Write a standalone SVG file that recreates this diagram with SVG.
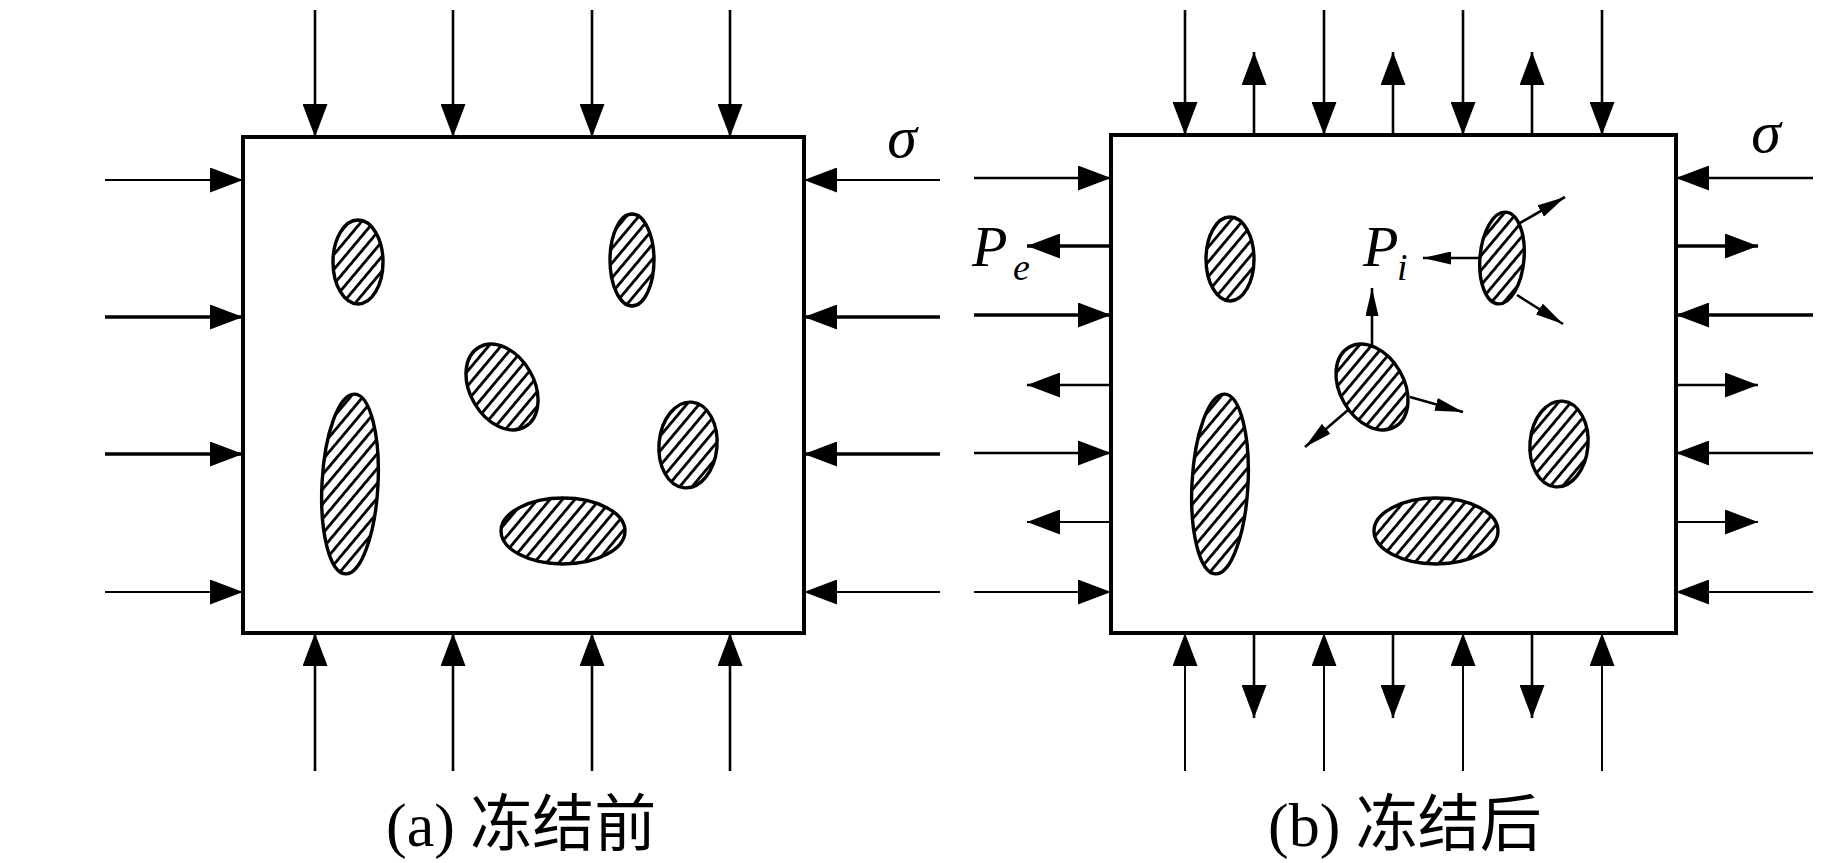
<svg xmlns="http://www.w3.org/2000/svg" width="1827" height="863" viewBox="0 0 1827 863">
<style>
.box{fill:#fff;stroke:#000;stroke-width:4}
.inc{fill:url(#hatch);stroke:#000;stroke-width:3.4}
.r30{fill:url(#hatch70)}
.r3{fill:url(#hatch37)}
.r5{fill:url(#hatch35)}
.ar{stroke:#000;stroke-width:2.6;fill:none;marker-end:url(#ah)}
.thin{stroke-width:2}
.thick{stroke-width:3.6}
.sm{stroke:#000;stroke-width:2.6;fill:none;marker-end:url(#as)}
.sym{font-family:"Liberation Serif","Times New Roman",serif;font-style:italic;fill:#000}
.lat{font-family:"Liberation Serif","Times New Roman",serif}
.cap{font-family:"Liberation Serif","Noto Sans CJK SC",serif;font-size:62px;fill:#000}
</style>
<defs>
<pattern id="hatch" patternUnits="userSpaceOnUse" width="9.5" height="9.5" patternTransform="rotate(40)">
<rect x="0" y="0" width="9.5" height="9.5" fill="#fff"/>
<rect x="0" y="0" width="2.8" height="9.5" fill="#000"/>
</pattern>
<pattern id="hatch70" href="#hatch" patternTransform="rotate(70)"/>
<pattern id="hatch37" href="#hatch" patternTransform="rotate(37)"/>
<pattern id="hatch35" href="#hatch" patternTransform="rotate(35)"/>
<marker id="ah" markerUnits="userSpaceOnUse" markerWidth="33" markerHeight="25" refX="33" refY="12.5" orient="auto">
<path d="M0,0 L33,12.5 L0,25 Z" fill="#000"/>
</marker>
<marker id="as" markerUnits="userSpaceOnUse" markerWidth="28" markerHeight="13" refX="28" refY="6.5" orient="auto">
<path d="M0,0 L28,6.5 L0,13 Z" fill="#000"/>
</marker>
</defs>
<rect width="1827" height="863" fill="#fff"/>

<g id="box-a"><rect class="box" x="243" y="137" width="561" height="496"/></g>
<g id="box-b"><rect class="box" x="1111" y="135" width="565" height="498"/></g>

<g id="inclusions-a">
<g id="a-e1"><ellipse class="inc" cx="358" cy="262" rx="25" ry="42"/></g>
<g id="a-e2"><ellipse class="inc" cx="632" cy="260" rx="22" ry="46"/></g>
<g id="a-e3"><ellipse class="inc r30" cx="0" cy="0" rx="32" ry="46" transform="translate(502,387) rotate(-30)"/></g>
<g id="a-e4"><ellipse class="inc r3" cx="0" cy="0" rx="28" ry="90" transform="translate(350,484) rotate(3)"/></g>
<g id="a-e5"><ellipse class="inc r5" cx="0" cy="0" rx="29" ry="43" transform="translate(688,445) rotate(5)"/></g>
<g id="a-e6"><ellipse class="inc" cx="563" cy="531" rx="62" ry="33"/></g>
</g>

<g id="inclusions-b">
<g id="b-e1"><ellipse class="inc" cx="1230" cy="259" rx="24" ry="42"/></g>
<g id="b-e2"><ellipse class="inc r5" cx="0" cy="0" rx="22" ry="46" transform="translate(1502,258) rotate(5)"/></g>
<g id="b-e3"><ellipse class="inc r30" cx="0" cy="0" rx="32" ry="46" transform="translate(1372,387) rotate(-30)"/></g>
<g id="b-e4"><ellipse class="inc r3" cx="0" cy="0" rx="28" ry="90" transform="translate(1220,484) rotate(3)"/></g>
<g id="b-e5"><ellipse class="inc r5" cx="0" cy="0" rx="29" ry="43" transform="translate(1559,444) rotate(5)"/></g>
<g id="b-e6"><ellipse class="inc" cx="1436" cy="531" rx="62" ry="33"/></g>
</g>

<g id="connectors">
<line class="ar" x1="315" y1="10" x2="315" y2="137"/>
<line class="ar" x1="453" y1="10" x2="453" y2="137"/>
<line class="ar" x1="592" y1="10" x2="592" y2="137"/>
<line class="ar" x1="730" y1="10" x2="730" y2="137"/>
<line class="ar" x1="315" y1="771" x2="315" y2="633"/>
<line class="ar" x1="453" y1="771" x2="453" y2="633"/>
<line class="ar" x1="592" y1="771" x2="592" y2="633"/>
<line class="ar" x1="730" y1="771" x2="730" y2="633"/>
<line class="ar thin" x1="105" y1="180" x2="243" y2="180"/>
<line class="ar thick" x1="105" y1="317" x2="243" y2="317"/>
<line class="ar thick" x1="105" y1="454" x2="243" y2="454"/>
<line class="ar thin" x1="105" y1="592" x2="243" y2="592"/>
<line class="ar thin" x1="940" y1="180" x2="804" y2="180"/>
<line class="ar thick" x1="940" y1="317" x2="804" y2="317"/>
<line class="ar thick" x1="940" y1="454" x2="804" y2="454"/>
<line class="ar thin" x1="940" y1="592" x2="804" y2="592"/>

<line class="ar" x1="1185" y1="10" x2="1185" y2="135"/>
<line class="ar" x1="1324" y1="10" x2="1324" y2="135"/>
<line class="ar" x1="1463" y1="10" x2="1463" y2="135"/>
<line class="ar" x1="1602" y1="10" x2="1602" y2="135"/>
<line class="ar" x1="1254" y1="135" x2="1254" y2="52"/>
<line class="ar" x1="1393" y1="135" x2="1393" y2="52"/>
<line class="ar" x1="1532" y1="135" x2="1532" y2="52"/>
<line class="ar thin" x1="1185" y1="771" x2="1185" y2="633"/>
<line class="ar thin" x1="1324" y1="771" x2="1324" y2="633"/>
<line class="ar thin" x1="1463" y1="771" x2="1463" y2="633"/>
<line class="ar thin" x1="1602" y1="771" x2="1602" y2="633"/>
<line class="ar" x1="1254" y1="633" x2="1254" y2="718"/>
<line class="ar" x1="1393" y1="633" x2="1393" y2="718"/>
<line class="ar" x1="1532" y1="633" x2="1532" y2="718"/>
<line class="ar" x1="974" y1="178" x2="1111" y2="178"/>
<line class="ar thick" x1="974" y1="315" x2="1111" y2="315"/>
<line class="ar" x1="974" y1="453" x2="1111" y2="453"/>
<line class="ar thin" x1="974" y1="592" x2="1111" y2="592"/>
<line class="ar thick" x1="1111" y1="246" x2="1027" y2="246"/>
<line class="ar" x1="1111" y1="385" x2="1027" y2="385"/>
<line class="ar thin" x1="1111" y1="522" x2="1027" y2="522"/>
<line class="ar" x1="1813" y1="178" x2="1676" y2="178"/>
<line class="ar thick" x1="1813" y1="315" x2="1676" y2="315"/>
<line class="ar" x1="1813" y1="453" x2="1676" y2="453"/>
<line class="ar thin" x1="1813" y1="592" x2="1676" y2="592"/>
<line class="ar thick" x1="1676" y1="246" x2="1758" y2="246"/>
<line class="ar" x1="1676" y1="385" x2="1758" y2="385"/>
<line class="ar thin" x1="1676" y1="522" x2="1758" y2="522"/>
<line class="sm" x1="1480" y1="258" x2="1423" y2="258"/>
<line class="sm" x1="1520" y1="223" x2="1565" y2="197"/>
<line class="sm" x1="1517" y1="295" x2="1563" y2="324"/>
<line class="sm" x1="1372" y1="345" x2="1372" y2="288"/>
<line class="sm" x1="1410" y1="397" x2="1463" y2="412"/>
<line class="sm" x1="1348" y1="410" x2="1305" y2="447"/>
</g>

<g id="labels">
<text class="sym" x="902" y="157" font-size="60" text-anchor="middle">σ</text>
<text class="sym" x="1766" y="152" font-size="60" text-anchor="middle">σ</text>
<text class="sym" x="972" y="266" font-size="58">P</text>
<text class="sym" x="1013" y="280" font-size="38">e</text>
<text class="sym" x="1363" y="266" font-size="58">P</text>
<text class="sym" x="1397" y="280" font-size="38">i</text>
<text class="cap" x="386" y="846"><tspan class="lat">(a)</tspan> 冻结前</text>
<text class="cap" x="1268" y="846"><tspan class="lat">(b)</tspan> 冻结后</text>
</g>
</svg>
